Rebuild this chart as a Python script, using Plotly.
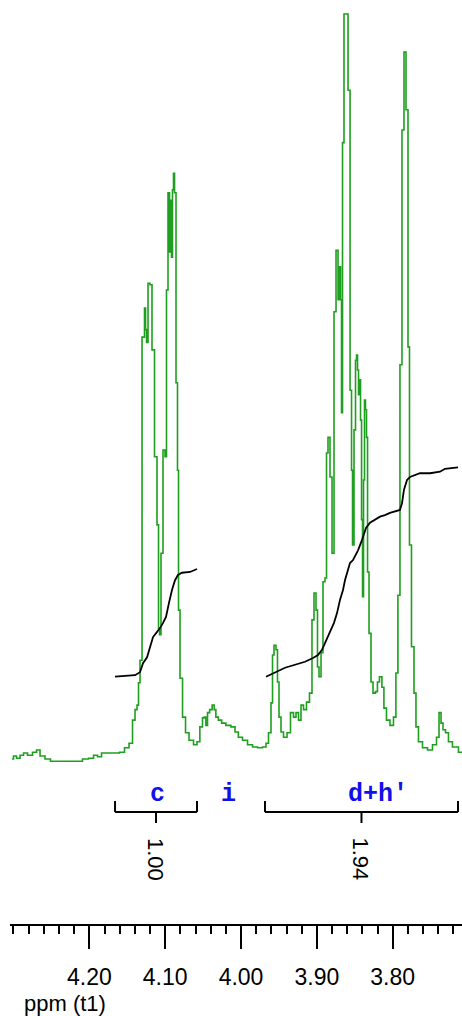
import plotly.graph_objects as go

# ---- spectrum (ppm, intensity in arbitrary units) ----
spec_ppm = [4.3019, 4.2980, 4.2940, 4.2887, 4.2848, 4.2782, 4.2716, 4.2676, 4.2624, 4.2545,
            4.2479, 4.2320, 4.2123, 4.2057, 4.1964, 4.1925, 4.1859, 4.1819, 4.1727, 4.1635,
            4.1569, 4.1503, 4.1450, 4.1411, 4.1384, 4.1358, 4.1345, 4.1318, 4.1292, 4.1279,
            4.1266, 4.1252, 4.1239, 4.1213, 4.1187, 4.1160, 4.1121, 4.1094, 4.1081, 4.1068,
            4.1042, 4.1015, 4.0989, 4.0976, 4.0949, 4.0936, 4.0923, 4.0910, 4.0897, 4.0883,
            4.0870, 4.0844, 4.0831, 4.0817, 4.0791, 4.0751, 4.0712, 4.0659, 4.0593, 4.0567,
            4.0518, 4.0497, 4.0475, 4.0452, 4.0431, 4.0396, 4.0365, 4.0343, 4.0320, 4.0277,
            4.0233, 4.0167, 4.0101, 4.0057, 4.0013, 3.9947, 3.9881, 3.9815, 3.9750, 3.9684,
            3.9657, 3.9618, 3.9591, 3.9578, 3.9552, 3.9526, 3.9512, 3.9486, 3.9459, 3.9420,
            3.9367, 3.9328, 3.9288, 3.9262, 3.9222, 3.9196, 3.9156, 3.9117, 3.9077, 3.9051,
            3.9024, 3.8998, 3.8985, 3.8958, 3.8932, 3.8906, 3.8879, 3.8866, 3.8840, 3.8813,
            3.8787, 3.8760, 3.8734, 3.8707, 3.8694, 3.8681, 3.8668, 3.8655, 3.8629, 3.8602,
            3.8575, 3.8549, 3.8536, 3.8523, 3.8497, 3.8483, 3.8470, 3.8457, 3.8444, 3.8431,
            3.8417, 3.8404, 3.8391, 3.8378, 3.8365, 3.8352, 3.8338, 3.8325, 3.8299, 3.8273,
            3.8246, 3.8208, 3.8194, 3.8155, 3.8129, 3.8102, 3.8062, 3.8009, 3.7970, 3.7945,
            3.7917, 3.7891, 3.7864, 3.7838, 3.7811, 3.7785, 3.7772, 3.7732, 3.7706, 3.7680,
            3.7640, 3.7574, 3.7508, 3.7442, 3.7402, 3.7376, 3.7349, 3.7323, 3.7284, 3.7245,
            3.7179, 3.7086]
spec_int = [0.4, 0.8, 0.5, 0.9, 1.2, 0.9, 1.3, 1.6, 0.8, 0.4,
            0.1, 0.1, 0.1, 0.4, 0.5, 0.9, 0.7, 1.2, 1.2, 1.2,
            1.3, 1.9, 2.5, 5.6, 7.0, 7.6, 10.6, 13.6, 56.8, 56.8,
            60.7, 57.8, 56.1, 64.0, 63.8, 55.1, 40.8, 31.7, 17.9, 17.0,
            27.9, 41.7, 40.8, 63.1, 76.1, 68.2, 75.1, 67.5, 76.5, 78.7,
            76.1, 50.7, 39.0, 20.3, 11.2, 6.0, 3.9, 2.9, 2.3, 2.7,
            4.7, 5.9, 6.0, 4.9, 6.6, 7.0, 7.6, 7.0, 6.0, 5.6,
            5.2, 4.9, 4.7, 4.0, 3.3, 2.9, 2.3, 2.0, 1.9, 2.0,
            2.5, 3.9, 7.9, 14.3, 15.6, 15.0, 10.7, 6.0, 4.0, 3.3,
            3.9, 6.6, 6.0, 6.6, 5.6, 7.6, 7.0, 8.0, 9.2, 19.0,
            22.6, 20.3, 12.7, 11.4, 14.6, 24.1, 24.6, 41.3, 43.4, 38.1,
            27.9, 60.2, 68.4, 61.8, 66.2, 61.8, 46.7, 82.8, 100.0, 100.0,
            89.8, 49.7, 39.0, 29.0, 44.4, 53.7, 54.4, 52.4, 49.1, 51.1,
            45.7, 32.4, 22.1, 37.7, 48.4, 47.1, 43.4, 25.4, 17.2, 10.7,
            9.2, 9.4, 10.7, 11.4, 10.0, 7.2, 5.6, 4.9, 6.0, 11.9,
            22.3, 53.1, 84.5, 94.9, 87.2, 55.5, 29.0, 15.4, 9.2, 4.7,
            2.7, 1.9, 1.6, 2.3, 3.3, 6.6, 5.2, 4.3, 3.9, 2.7,
            2.0, 1.3]

# ---- integral curves ----
int_c_ppm = [4.1661, 4.1490, 4.1397, 4.1332, 4.1292, 4.1239, 4.1200, 4.1160, 4.1107, 4.1068,
             4.1028, 4.0989, 4.0949, 4.0910, 4.0870, 4.0831, 4.0778, 4.0672, 4.0580]
int_c_val = [11.4, 11.5, 11.6, 12.0, 13.2, 14.0, 15.2, 16.7, 17.4, 17.9,
             18.6, 19.4, 21.3, 23.0, 24.3, 25.0, 25.3, 25.4, 25.8]
int_d_ppm = [3.9670, 3.9552, 3.9420, 3.9288, 3.9156, 3.9051, 3.8985, 3.8932, 3.8866, 3.8813,
             3.8774, 3.8734, 3.8694, 3.8655, 3.8629, 3.8589, 3.8563, 3.8523, 3.8483, 3.8457,
             3.8404, 3.8352, 3.8299, 3.8233, 3.8167, 3.8102, 3.8036, 3.7904, 3.7877, 3.7851,
             3.7811, 3.7772, 3.7706, 3.7640, 3.7508, 3.7376, 3.7310, 3.7139]
int_d_val = [11.4, 12.0, 12.6, 13.0, 13.4, 13.9, 14.3, 15.0, 16.6, 17.9,
             18.6, 19.9, 21.7, 23.0, 24.3, 25.7, 26.6, 27.0, 27.7, 28.3,
             29.7, 31.3, 32.0, 32.4, 32.8, 33.0, 33.3, 33.7, 34.6, 36.4,
             37.7, 38.1, 38.4, 38.6, 38.6, 38.8, 39.2, 39.4]

# ---- integration regions and labels ----
region_start = [4.1661, 3.9684]
region_end = [4.0580, 3.7139]
region_value = ["1.00", "1.94"]
label_text = ["c", "i", "d+h'"]
label_ppm = [4.1107, 4.0171, 3.8194]

# ---- axis ticks ----
tick_vals = [4.20, 4.10, 4.00, 3.90, 3.80]
tick_text = ["4.20", "4.10", "4.00", "3.90", "3.80"]
axis_title = "ppm (t1)"

W, H = 462, 1016
GREEN = "#1f9f1f"

fig = go.Figure()
fig.add_trace(go.Scatter(x=spec_ppm, y=spec_int, mode="lines",
                         line=dict(color=GREEN, width=1.6, shape="hvh"), hoverinfo="skip"))
fig.add_trace(go.Scatter(x=int_c_ppm, y=int_c_val, mode="lines",
                         line=dict(color="black", width=1.8), hoverinfo="skip"))
fig.add_trace(go.Scatter(x=int_d_ppm, y=int_d_val, mode="lines",
                         line=dict(color="black", width=1.8), hoverinfo="skip"))

def py(px):  # pixel from top -> paper fraction
    return (H - px) / H

shapes = []
annotations = []
for s, e, v in zip(region_start, region_end, region_value):
    mid = (s + e) / 2
    ln = dict(color="black", width=2)
    shapes.append(dict(type="line", xref="x", yref="paper", x0=s, x1=e, y0=py(812), y1=py(812), line=ln))
    shapes.append(dict(type="line", xref="x", yref="paper", x0=s, x1=s, y0=py(812), y1=py(801), line=ln))
    shapes.append(dict(type="line", xref="x", yref="paper", x0=e, x1=e, y0=py(812), y1=py(801), line=ln))
    shapes.append(dict(type="line", xref="x", yref="paper", x0=mid, x1=mid, y0=py(812), y1=py(823), line=ln))
    annotations.append(dict(x=mid, y=py(859), xref="x", yref="paper", text=v, textangle=90,
                            showarrow=False, xanchor="center", yanchor="middle",
                            font=dict(family="Liberation Sans, Arial", size=22, color="black")))

for t, p in zip(label_text, label_ppm):
    annotations.append(dict(x=p, y=py(794), xref="x", yref="paper", text="<b>" + t + "</b>",
                            showarrow=False, xanchor="center", yanchor="middle",
                            font=dict(family="Liberation Mono, Courier New, monospace", size=25, color="#1010e8")))

annotations.append(dict(x=22 / W, y=py(1003), xref="paper", yref="paper", text=axis_title,
                        showarrow=False, xanchor="left", yanchor="middle",
                        font=dict(family="Liberation Sans, Arial", size=22, color="black")))

fig.update_layout(
    width=W, height=H,
    margin=dict(l=0, r=0, t=0, b=0),
    paper_bgcolor="white", plot_bgcolor="white",
    showlegend=False,
    shapes=shapes, annotations=annotations,
    xaxis=dict(domain=[10 / W, 1], range=[4.3046, 3.7086], anchor="free", position=py(925),
               showgrid=False, zeroline=False, showline=True, linecolor="black", linewidth=2,
               ticks="outside", ticklen=23, tickwidth=2, tickcolor="black",
               tickvals=tick_vals, ticktext=tick_text, ticklabelstandoff=8,
               tickfont=dict(family="Liberation Sans, Arial", size=23, color="black"),
               minor=dict(dtick=0.02, tick0=4.20, ticks="outside", ticklen=8, tickwidth=2, tickcolor="black")),
    yaxis=dict(domain=[0, 1], range=[-33.96, 101.87], visible=False, showgrid=False, zeroline=False),
)

fig.write_html("out.html", config={"displayModeBar": False},
               post_script="document.body.style.margin='0';document.body.style.overflow='hidden';")
